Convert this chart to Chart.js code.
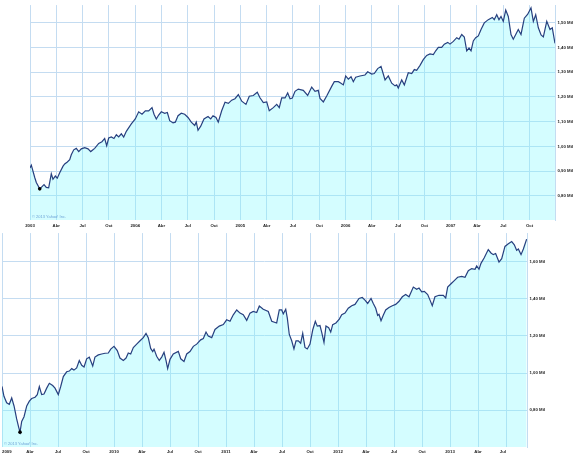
<!DOCTYPE html>
<html><head><meta charset="utf-8">
<script src="https://cdn.jsdelivr.net/npm/chart.js@4/dist/chart.umd.min.js"></script>
<style>
html,body{margin:0;padding:0;background:#fff;width:575px;height:457px;overflow:hidden}
canvas{position:absolute;left:0}
#c1{top:0}
#c2{top:228px}
</style></head><body>
<canvas id="c1" width="575" height="228"></canvas>
<canvas id="c2" width="575" height="229"></canvas>
<script>
// ---- Top chart: months since Jan 2003, value in millions ----
const topMonths = [0,0.15,0.54,0.72,1.11,1.29,1.60,1.86,2.13,2.43,2.62,2.89,3.11,3.39,3.77,3.96,4.26,4.53,4.71,4.99,5.28,5.56,5.85,6.24,6.62,6.93,7.38,7.84,8.21,8.52,8.75,8.98,9.28,9.58,9.85,10.12,10.42,10.69,10.99,11.56,12.01,12.40,12.78,13.16,13.54,13.92,14.15,14.41,14.68,14.98,15.37,15.67,15.94,16.32,16.58,16.89,17.26,17.65,18.03,18.40,18.79,18.97,19.17,19.48,19.85,20.31,20.62,20.88,21.22,21.48,21.87,22.25,22.63,23.01,23.39,23.77,24.16,24.64,25.02,25.48,25.93,26.24,26.62,27.01,27.30,27.76,28.15,28.44,28.72,29.10,29.40,29.67,29.93,30.24,30.61,31.18,31.68,32.14,32.52,32.89,33.09,33.47,33.85,34.42,34.72,35.18,35.48,35.75,36.02,36.32,36.63,36.89,37.16,37.65,38.22,38.53,38.99,39.28,39.67,40.05,40.31,40.51,40.88,41.27,41.65,41.84,42.02,42.41,42.71,43.16,43.55,43.85,44.12,44.50,44.87,45.26,45.64,46.02,46.29,46.59,46.97,47.27,47.66,47.92,48.30,48.69,48.95,49.26,49.55,49.83,50.09,50.32,50.58,50.85,51.15,51.46,51.83,52.29,52.75,52.97,53.25,53.51,53.74,54.00,54.28,54.57,54.88,55.14,55.42,55.71,56.02,56.40,56.79,57.16,57.43,57.70,58.00,58.31,58.57,58.96,59.33,59.59,59.90];
const topValues = [0.913,0.924,0.874,0.854,0.828,0.834,0.845,0.834,0.832,0.889,0.867,0.880,0.871,0.893,0.920,0.929,0.937,0.946,0.966,0.986,0.992,0.979,0.990,0.995,0.990,0.979,0.992,1.012,1.019,1.032,1.003,1.034,1.038,1.032,1.047,1.038,1.051,1.038,1.061,1.091,1.111,1.140,1.130,1.144,1.144,1.157,1.130,1.111,1.127,1.140,1.134,1.137,1.104,1.095,1.098,1.124,1.134,1.130,1.117,1.098,1.085,1.098,1.065,1.082,1.111,1.121,1.111,1.124,1.117,1.098,1.144,1.179,1.174,1.187,1.193,1.210,1.183,1.170,1.203,1.206,1.219,1.197,1.177,1.180,1.144,1.157,1.170,1.157,1.196,1.196,1.216,1.193,1.196,1.223,1.232,1.227,1.206,1.240,1.223,1.227,1.194,1.180,1.204,1.243,1.262,1.262,1.256,1.249,1.285,1.272,1.282,1.262,1.280,1.285,1.289,1.302,1.293,1.295,1.315,1.324,1.293,1.269,1.285,1.256,1.245,1.249,1.236,1.269,1.249,1.298,1.295,1.311,1.308,1.328,1.351,1.368,1.374,1.372,1.387,1.401,1.401,1.414,1.421,1.414,1.425,1.440,1.434,1.453,1.443,1.387,1.398,1.387,1.427,1.440,1.447,1.473,1.500,1.513,1.522,1.513,1.533,1.513,1.526,1.506,1.552,1.526,1.453,1.434,1.453,1.473,1.453,1.519,1.535,1.561,1.506,1.533,1.480,1.451,1.443,1.506,1.473,1.480,1.417];
const topTickLabels = ['2003','Abr','Jul','Oct','2004','Abr','Jul','Oct','2005','Abr','Jul','Oct','2006','Abr','Jul','Oct','2007','Abr','Jul','Oct'];
const topYTicks = [0.8,0.9,1.0,1.1,1.2,1.3,1.4,1.5];

// ---- Bottom chart: months since Jan 2009, value in millions ----
const botMonths = [0,0.21,0.50,0.78,1.04,1.29,1.57,1.79,1.93,2.11,2.36,2.65,2.93,3.18,3.54,3.78,4.00,4.25,4.50,4.79,5.07,5.43,5.68,6.03,6.29,6.57,6.93,7.21,7.47,7.71,8.00,8.28,8.54,8.79,9.07,9.35,9.72,9.96,10.32,10.68,11.04,11.39,11.65,12.00,12.35,12.64,13.00,13.29,13.53,13.79,14.07,14.43,14.79,15.14,15.43,15.67,15.93,16.15,16.29,16.57,16.85,17.11,17.36,17.57,17.75,18.00,18.35,18.89,19.15,19.50,19.79,20.14,20.50,20.86,21.29,21.57,21.86,22.10,22.47,22.82,23.28,23.71,24.07,24.43,24.78,25.15,25.50,25.85,26.22,26.57,26.92,27.29,27.57,27.99,28.53,28.90,29.43,29.71,29.97,30.14,30.40,30.57,30.78,31.04,31.28,31.50,31.75,32.00,32.22,32.46,32.71,33.00,33.29,33.57,33.78,34.07,34.25,34.50,34.71,35.00,35.22,35.43,35.78,36.14,36.40,36.75,37.10,37.47,37.82,38.25,38.60,38.89,39.18,39.54,39.78,40.04,40.25,40.39,40.61,40.85,41.11,41.46,41.82,42.18,42.54,42.89,43.25,43.61,44.07,44.43,44.68,44.97,45.25,45.61,45.86,46.10,46.39,46.82,47.28,47.54,47.75,48.11,48.46,48.82,49.25,49.61,49.96,50.32,50.68,50.86,51.11,51.32,51.67,52.10,52.39,52.64,52.89,53.25,53.54,53.89,54.25,54.61,54.89,55.14,55.32,55.61,55.86,56.21];
const botValues = [0.928,0.875,0.840,0.832,0.866,0.823,0.753,0.708,0.682,0.740,0.765,0.823,0.849,0.863,0.870,0.884,0.928,0.884,0.887,0.919,0.945,0.933,0.919,0.884,0.928,0.981,1.007,1.011,1.024,1.016,1.028,1.068,1.042,1.033,1.077,1.086,1.038,1.086,1.098,1.103,1.107,1.108,1.129,1.144,1.121,1.081,1.068,1.081,1.108,1.103,1.138,1.156,1.174,1.191,1.214,1.191,1.133,1.116,1.129,1.091,1.068,1.086,1.112,1.068,1.024,1.074,1.103,1.117,1.077,1.063,1.103,1.116,1.144,1.156,1.179,1.186,1.221,1.200,1.191,1.235,1.253,1.261,1.287,1.279,1.314,1.340,1.323,1.314,1.284,1.323,1.332,1.326,1.361,1.344,1.332,1.279,1.270,1.340,1.340,1.319,1.344,1.296,1.208,1.174,1.130,1.174,1.174,1.161,1.214,1.138,1.130,1.156,1.232,1.279,1.253,1.256,1.221,1.165,1.253,1.244,1.221,1.261,1.270,1.291,1.314,1.323,1.349,1.363,1.370,1.402,1.407,1.393,1.375,1.402,1.375,1.349,1.311,1.317,1.282,1.311,1.340,1.353,1.363,1.370,1.387,1.411,1.423,1.411,1.463,1.451,1.458,1.437,1.440,1.423,1.393,1.363,1.411,1.419,1.419,1.405,1.463,1.481,1.498,1.516,1.521,1.516,1.551,1.563,1.559,1.577,1.559,1.591,1.621,1.665,1.647,1.638,1.644,1.598,1.616,1.682,1.696,1.708,1.691,1.661,1.668,1.638,1.668,1.721];
const botTickLabels = ['2009','Abr','Jul','Oct','2010','Abr','Jul','Oct','2011','Abr','Jul','Oct','2012','Abr','Jul','Oct','2013','Abr','Jul'];
const botYTicks = [0.8,1.0,1.2,1.4,1.6];

const copyrightText = '\u00a9 2013 Yahoo! Inc.';

const LINE = '#27407f';
const FILL = 'rgba(120,248,255,0.32)';
const GRID = '#c4dcf1';
const TICKFONT = {family:'Liberation Sans, Arial, sans-serif', size:4.3, weight:'bold'};

function fmtMil(v){ return v.toFixed(2).replace('.', ',') + ' Mil'; }

const copyrightPlugin = {
  id:'copyright',
  afterDatasetsDraw(chart){
    const {ctx, chartArea} = chart;
    ctx.save();
    ctx.font = '4px Liberation Sans, Arial, sans-serif';
    ctx.fillStyle = '#6ea3d6';
    ctx.textBaseline = 'alphabetic';
    ctx.fillText(copyrightText, chartArea.left + 2, chartArea.bottom - 2);
    ctx.restore();
  }
};

function makeChart(id, months, values, tickLabels, yTicks, cfg){
  const minIdx = values.indexOf(Math.min(...values));
  const data = months.map((m,i)=>({x:m, y:values[i]}));
  return new Chart(document.getElementById(id), {
    type:'line',
    data:{datasets:[{
      data,
      borderColor:LINE,
      borderWidth:1.2,
      backgroundColor:FILL,
      fill:'start',
      tension:0,
      pointRadius:(c)=>c.dataIndex===minIdx?1.8:0,
      pointBackgroundColor:'#000',
      pointBorderColor:'#000',
      pointBorderWidth:0,
      pointHoverRadius:0
    }]},
    options:{
      responsive:false,
      animation:false,
      devicePixelRatio:1,
      layout:{padding:{left:cfg.left, right:0, top:0, bottom:0}},
      plugins:{legend:{display:false}, tooltip:{enabled:false}},
      scales:{
        x:{
          type:'linear', min:0, max:cfg.xMax,
          afterBuildTicks:(s)=>{ s.ticks = tickLabels.map((_,i)=>({value:i*3})); },
          afterFit:(s)=>{ s.height = cfg.xH; s.paddingLeft = 0; s.paddingRight = 0; },
          grid:{color:GRID, lineWidth:1, drawTicks:false},
          border:{display:false},
          ticks:{
            callback:(v,i)=>tickLabels[i],
            font:TICKFONT, color:'#222', padding:cfg.xPad,
            maxRotation:0, autoSkip:false, align:cfg.xAlign
          }
        },
        y:{
          type:'linear', position:'right', min:cfg.yMin, max:cfg.yMax,
          afterBuildTicks:(s)=>{ s.ticks = yTicks.map(v=>({value:v})); },
          afterFit:(s)=>{ s.width = cfg.yW; },
          grid:{color:GRID, lineWidth:1, drawTicks:false},
          border:{display:true, color:GRID},
          ticks:{callback:(v)=>fmtMil(v), font:TICKFONT, color:'#222', padding:2.5}
        }
      }
    },
    plugins:[copyrightPlugin]
  });
}

makeChart('c1', topMonths, topValues, topTickLabels, topYTicks,
  {left:30, xMax:59.9, xH:8, xPad:3, yMin:0.702, yMax:1.572, yW:20, xAlign:'center'});
makeChart('c2', botMonths, botValues, botTickLabels, botYTicks,
  {left:2, xMax:56.25, xH:10, xPad:2, yMin:0.602, yMax:1.754, yW:48, xAlign:'inner'});
</script>
</body></html>
